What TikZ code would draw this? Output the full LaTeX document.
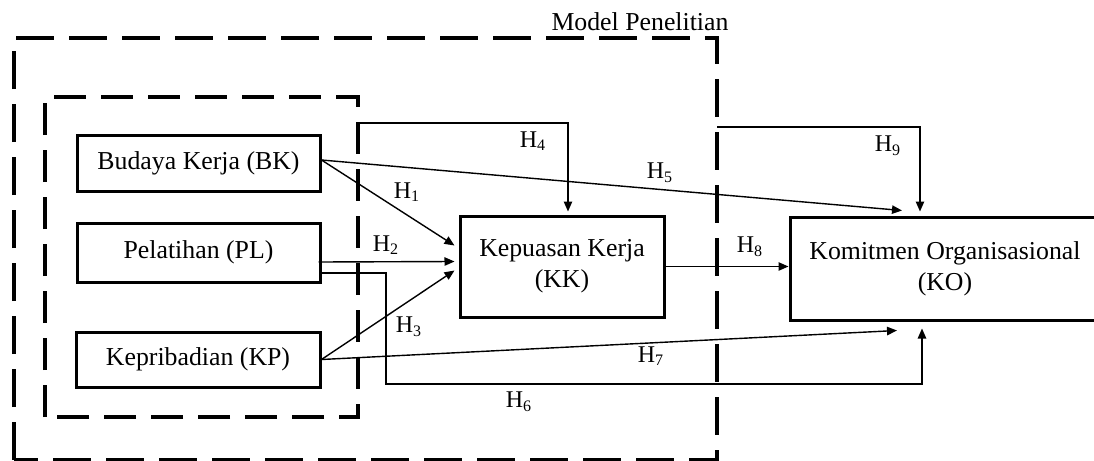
\documentclass[tikz,border=0pt]{standalone}
\usepackage{fontspec}
\setmainfont{Liberation Serif}
\usetikzlibrary{arrows.meta,calc}
\begin{document}
\begin{tikzpicture}[x=0.5pt,y=-0.5pt,
  box/.style={draw=black,line width=1.5pt,inner sep=0pt,align=center,
    font=\fontsize{12.9}{15.5}\selectfont},
  outerdash/.style={draw=black,line width=2.2pt,dash pattern=on 19pt off 7.5pt},
  innerdash/.style={draw=black,line width=2pt,dash pattern=on 16pt off 7.5pt},
  conn/.style={draw=black,line width=0.7pt,-{Triangle[length=5pt,width=4.2pt]}},
  lab/.style={font=\fontsize{12}{14}\selectfont,inner sep=0pt}]
\useasboundingbox (0,0) rectangle (1094,461);
% dashed frames
\draw[outerdash] (14,460) -- (14,38) -- (717,38) -- (717,460) -- cycle;
\draw[innerdash] (45,417) -- (45,97) -- (358,97) -- (358,417) -- cycle;
\node[font=\fontsize{12.9}{15}\selectfont,inner sep=0pt] (title) at (640,22) {Model Penelitian};
% boxes
\node[box,minimum width=121.5pt,minimum height=28pt] (BK) at (198.5,163) {Budaya Kerja (BK)};
\node[box,minimum width=121.5pt,minimum height=29.5pt] (PL) at (198.5,252.5) {Pelatihan (PL)};
\node[box,minimum width=122pt,minimum height=27.5pt] (KP) at (198,359.5) {Kepribadian (KP)};
\node[box,minimum width=102pt,minimum height=50.5pt] (KK) at (562,266.5) {Kepuasan Kerja\\(KK)};
\node[box,minimum width=155pt,minimum height=51.5pt] (KO) at (945,268.5) {Komitmen Organisasional\\(KO)};
% free ends
\coordinate (h4s) at (358,123);
\coordinate (h9s) at (717,127);
% connectors
\draw[conn] ($(BK.east)+(0,-3)$) -- ($(KK.west)+(-4,-21)$);
\draw[conn] ($(PL.east)+(-3,9.5)$) -- ($(KK.west)+(-4,-5)$);
\draw[conn] (KP.east) -- ($(KK.west)+(-4,4)$);
\draw[conn] (h4s) -| ($(KK.north)+(6,-3)$);
\draw[conn] ($(BK.east)+(0,-3)$) -- ($(KO.north)+(-43,-5)$);
\draw[conn] ($(PL.east)+(0,20.5)$) -| (386,384) -| ($(KO.south)+(-23,7)$);
\draw[conn] (KP.east) -- ($(KO.south)+(-48,9)$);
\draw[conn] (KK.east) -- (KK.east -| KO.west);
\draw[conn] (h9s) -| ($(KO.north)+(-25,-4)$);
% labels
\node[lab] (l1) at (407,192) {H\textsubscript{1}};
\node[lab] (l2) at (386,245) {H\textsubscript{2}};
\node[lab] (l3) at (409,327) {H\textsubscript{3}};
\node[lab] (l4) at (533,141) {H\textsubscript{4}};
\node[lab] (l5) at (660,173) {H\textsubscript{5}};
\node[lab] (l6) at (519,402) {H\textsubscript{6}};
\node[lab] (l7) at (651,356) {H\textsubscript{7}};
\node[lab] (l8) at (750,247) {H\textsubscript{8}};
\node[lab] (l9) at (888,146) {H\textsubscript{9}};
\end{tikzpicture}
\end{document}
